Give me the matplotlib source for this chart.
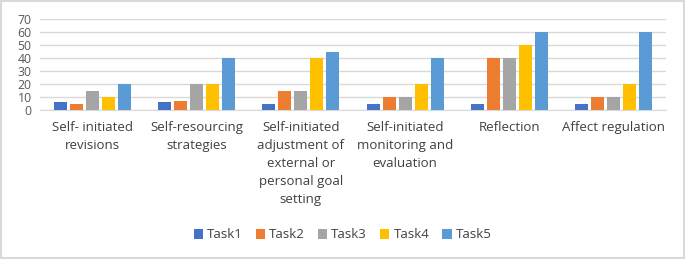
import matplotlib
matplotlib.use("Agg")
import matplotlib.pyplot as plt
import numpy as np
from matplotlib.patches import Rectangle

categories = ["Self- initiated\nrevisions", "Self-resourcing\nstrategies",
              "Self-initiated\nadjustment of\nexternal or\npersonal goal\nsetting",
              "Self-initiated\nmonitoring and\nevaluation", "Reflection", "Affect regulation"]
series_names = ["Task1", "Task2", "Task3", "Task4", "Task5"]
task1 = [6, 6, 5, 5, 5, 5]
task2 = [5, 7, 15, 10, 40, 10]
task3 = [15, 20, 15, 10, 40, 10]
task4 = [10, 20, 40, 20, 50, 20]
task5 = [20, 40, 45, 40, 60, 60]
colors = ["#4472C4", "#ED7D31", "#A5A5A5", "#FFC000", "#5B9BD5"]
yticks = [0, 10, 20, 30, 40, 50, 60, 70]

plt.rcParams['font.family'] = ['Open Sans', 'DejaVu Sans']
fig = plt.figure(figsize=(6.85, 2.59), dpi=100)
ax = fig.add_axes([40/685, 1-110/259, 626/685, 91/259])

x = np.arange(len(categories))
data = [task1, task2, task3, task4, task5]
pitch = 0.154
w = 0.125
for i, (vals, c, n) in enumerate(zip(data, colors, series_names)):
    ax.bar(x + (i - 2) * pitch, vals, w, color=c, label=n, zorder=3)

ax.set_xlim(-0.5, len(categories) - 0.5)
ax.set_ylim(0, 70)
ax.set_yticks(yticks)
ax.tick_params(axis='y', length=0, labelsize=8.8, colors='#595959', pad=6)
ax.tick_params(axis='x', length=0, labelsize=9.5, colors='#404040', pad=8)
ax.set_xticks(x)
ax.set_xticklabels(categories, linespacing=1.5, va='top')
ax.grid(axis='y', color='#D9D9D9', linewidth=1, zorder=0)
for s in ['top', 'right', 'left']:
    ax.spines[s].set_visible(False)
ax.spines['bottom'].set_color('#D9D9D9')

fig.legend(loc='center', bbox_to_anchor=(0.5, 1-235/259), ncol=5, frameon=False,
           fontsize=9.5, handlelength=0.7, handleheight=0.7, handletextpad=0.3,
           columnspacing=1.0, labelcolor='#404040')

fig.patches.append(Rectangle((0.002, 0.004), 0.996, 0.992, transform=fig.transFigure,
                             fill=False, edgecolor='#D9D9D9', linewidth=1.5))
fig.savefig("out.png", dpi=100)
